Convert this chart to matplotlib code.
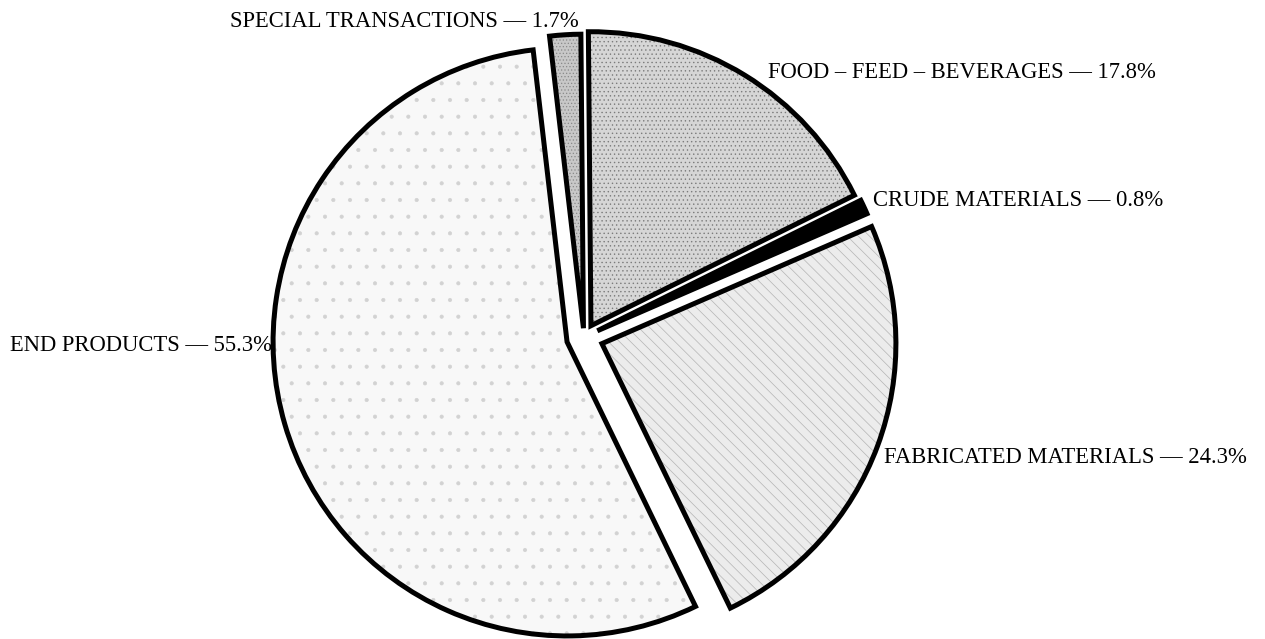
import matplotlib
matplotlib.use("Agg")
import matplotlib.pyplot as plt

# ---- data ----
categories = ["FOOD – FEED – BEVERAGES", "CRUDE MATERIALS", "FABRICATED MATERIALS",
              "END PRODUCTS", "SPECIAL TRANSACTIONS"]
shares = [17.8, 0.8, 24.3, 55.3, 1.7]
share_labels = ["17.8%", "0.8%", "24.3%", "55.3%", "1.7%"]

# ---- style ----
explode = [0.045, 0.05, 0.065, 0.06, 0.03]
face = ["#d6d6d6", "#000000", "#ececec", "#f8f8f8", "#c8c8c8"]
hatches = ["....", "", "\\\\\\", ".", "....."]
hatch_cols = ["#7c7c7c", "#000000", "#b4b4b4", "#d2d2d2", "#8a8a8a"]

plt.rcParams["hatch.linewidth"] = 0.5
plt.rcParams["font.family"] = ["Liberation Serif", "DejaVu Serif"]

W, H = 1265, 639
fig = plt.figure(figsize=(W / 100, H / 100), dpi=100)
fig.patch.set_facecolor("white")

R = 294.0              # pixels per data unit (pie radius)
cx, cy = 584.0, 337.0  # pie centre in pixels (from top)
lim = 1.2
side = 2 * lim * R
ax = fig.add_axes([(cx - side / 2) / W, ((H - cy) - side / 2) / H, side / W, side / H])

common = dict(explode=explode, startangle=90.5, counterclock=False, radius=1.0)

# texture layer
w1, _ = ax.pie(shares, colors=face, hatch=hatches,
               wedgeprops=dict(linewidth=0), **common)
for w, hc in zip(w1, hatch_cols):
    w.set_edgecolor(hc)
    w.set_linewidth(0)
# outline layer
w2, _ = ax.pie(shares, colors=["none"] * len(shares),
               wedgeprops=dict(edgecolor="black", linewidth=3.6, joinstyle="miter"), **common)

ax.set_xlim(-lim, lim)
ax.set_ylim(-lim, lim)
ax.set_aspect("equal", adjustable="datalim")
ax.axis("off")

# ---- labels (pixel anchored) ----
fs = 16.3
def put(x, base, text, ha="left"):
    fig.text(x / W, (H - base) / H, text, ha=ha, va="baseline", fontsize=fs, color="black")

put(230, 27, f"{categories[4]} — {share_labels[4]}")
put(768, 78, f"{categories[0]} — {share_labels[0]}")
put(873, 206, f"{categories[1]} — {share_labels[1]}")
put(272, 351, f"{categories[3]} — {share_labels[3]}", ha="right")
put(884, 463, f"{categories[2]} — {share_labels[2]}")

fig.savefig("out.png", dpi=100, facecolor="white")
